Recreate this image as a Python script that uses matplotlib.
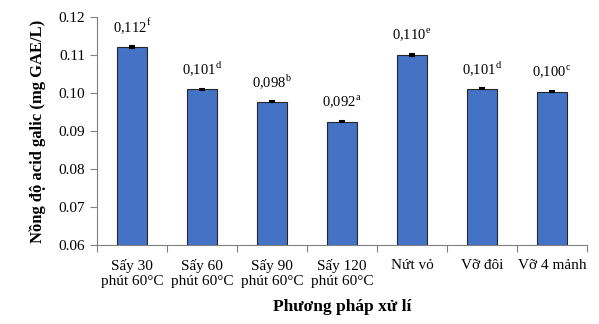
import numpy as np
import matplotlib.pyplot as plt

plt.rcParams['font.family'] = ['Liberation Serif', 'DejaVu Serif']
plt.rcParams['mathtext.fontset'] = 'custom'
plt.rcParams['mathtext.rm'] = 'Liberation Serif'

categories = ['Sấy 30\nphút 60°C', 'Sấy 60\nphút 60°C', 'Sấy 90\nphút 60°C',
              'Sấy 120\nphút 60°C', 'Nứt vỏ', 'Vỡ đôi', 'Vỡ 4 mảnh']
values = [0.1121, 0.1009, 0.0977, 0.0924, 0.1099, 0.1011, 0.1003]
errors = [0.0002, 0.0001, 0.0002, 0.0001, 0.0002, 0.0002, 0.0001]
labels = ['0,112', '0,101', '0,098', '0,092', '0,110', '0,101', '0,100']
letters = ['f', 'd', 'b', 'a', 'e', 'd', 'c']

fig = plt.figure(figsize=(5.99, 3.24), dpi=100)
ax = fig.add_axes([0.162, 0.244, 0.818, 0.704])

x = np.arange(len(categories))
ax.bar(x, values, width=0.42, color='#4472C4', edgecolor='#262626', linewidth=0.8,
       yerr=errors, capsize=2.5, error_kw=dict(ecolor='black', elinewidth=0.8, capthick=1.5))

for xi, v, lab, let in zip(x, values, labels, letters):
    ax.annotate(lab + r'$^{\mathrm{' + let + '}}$', (xi, v), xytext=(0, 8),
                textcoords='offset points', ha='center', va='bottom', fontsize=10.5)

ax.set_xlim(-0.5, len(categories) - 0.5)
ax.set_ylim(0.06, 0.12)
ax.set_yticks(np.arange(0.06, 0.1201, 0.01))
ax.set_yticklabels(['%.2f' % t for t in np.arange(0.06, 0.1201, 0.01)])

ax.set_xticks(np.arange(-0.5, len(categories), 1.0))
ax.set_xticklabels([])
ax.set_xticks(x, minor=True)
ax.set_xticklabels(categories, minor=True)
ax.tick_params(axis='x', which='minor', length=0, pad=10, labelsize=11)
ax.tick_params(axis='x', which='major', length=5, color='#808080')
ax.tick_params(axis='y', length=5, color='#808080', labelsize=11)

for side in ['top', 'right']:
    ax.spines[side].set_visible(False)
ax.spines['left'].set_color('#808080')
ax.spines['bottom'].set_color('#808080')

ax.set_ylabel('Nồng độ acid galic (mg GAE/L)', fontsize=12, fontweight='bold', labelpad=9)
ax.set_xlabel('Phương pháp xử lí', fontsize=12.5, fontweight='bold', labelpad=8)

fig.savefig('out.png', dpi=100)
